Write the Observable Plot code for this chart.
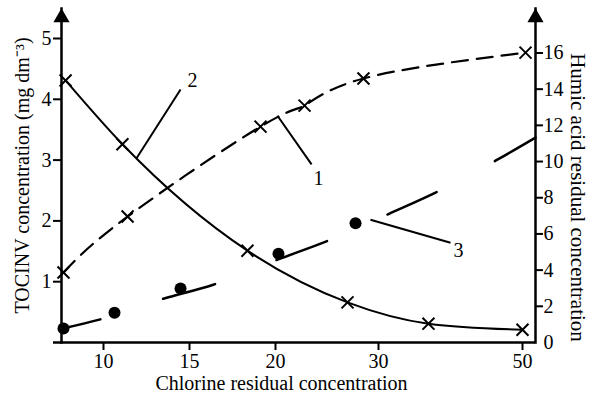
<!DOCTYPE html>
<html><head><meta charset="utf-8">
<script src="https://cdn.jsdelivr.net/npm/d3@7"></script>
<script src="https://cdn.jsdelivr.net/npm/@observablehq/plot@0.6"></script>
<style>html,body{margin:0;padding:0;background:#fff} #chart svg{display:block}</style>
</head><body><div id="chart"></div>
<script>
// ---- axis ticks ----
const xTicks = [10, 15, 20, 30, 50];
const leftTicks = [1, 2, 3, 4, 5];
const rightTicks = [2, 4, 6, 8, 10, 12, 14, 16];
const rightZero = [0];
// humic-acid units per TOCINV unit (ratio of the two y axes)
const rightPerLeft = 3.36;

// ---- curve 1: humic acid residual (right axis), dashed with crosses ----
const c1x = [7.68, 11.40, 19.13, 22.82, 28.54, 50.42];
const c1y = [3.87, 6.96, 11.93, 13.09, 14.59, 16.02];

// ---- curve 2: TOCINV (left axis), solid with crosses ----
const c2x = [7.80, 11.10, 18.37, 26.99, 36.94, 50.0];
const c2y = [4.31, 3.26, 1.51, 0.66, 0.31, 0.21];

// ---- curve 3: filled dots (left axis) and long-dash trend line ----
const c3x = [7.68, 10.64, 14.48, 20.29, 27.77];
const c3y = [0.23, 0.49, 0.89, 1.46, 1.96];
const c3lineX = [7.62, 9.94, 13.48, 16.38, 20.0, 25.34, 31.53, 38.19, 46.25, 51.8];
const c3lineY = [0.23, 0.39, 0.72, 0.95, 1.35, 1.69, 2.12, 2.48, 2.99, 3.37];

// ---- curve labels and leader lines ----
const labelText = ["1", "2", "3"];
const labelX = [24.17, 15.17, 41.1];
const labelY = [2.70, 4.31, 1.51];
const leaderX1 = [20.19, 11.92, 29.22];
const leaderY1 = [3.73, 3.03, 2.02];
const leaderX2 = [23.5, 14.48, 40.0];
const leaderY2 = [2.93, 4.16, 1.64];

const xTitle = "Chlorine residual concentration";
const yLeftTitle = "TOCINV concentration (mg dm\u207B\u00B3)";
const yRightTitle = "Humic acid residual concentration";

// ---- tables ----
const curve1 = c1x.map((x, i) => ({x, y: c1y[i] / rightPerLeft}));
const curve2 = c2x.map((x, i) => ({x, y: c2y[i]}));
const dots3 = c3x.map((x, i) => ({x, y: c3y[i]}));
const line3 = c3lineX.map((x, i) => ({x, y: c3lineY[i]}));
const labels = labelText.map((t, i) => ({t, x: labelX[i], y: labelY[i]}));
const leaders = leaderX1.map((x1, i) => ({x1, y1: leaderY1[i], x2: leaderX2[i], y2: leaderY2[i]}));

const xDomain = [7.1, 10, 15, 20, 30, 50, 51.8];
const FONT = "'Liberation Serif', 'Times New Roman', serif";
const FS = 20;

const chart = Plot.plot({
  width: 590,
  height: 398,
  marginLeft: 61,
  marginRight: 55,
  marginTop: 8,
  marginBottom: 56,
  style: {fontFamily: FONT, fontSize: "20px", color: "black", background: "white"},
  x: {type: "linear", domain: xDomain, range: [53, 103, 189, 275, 378, 522, 535]},
  y: {domain: [0, 5.5], range: [342, 7.6]},
  marks: [
    // axis lines
    Plot.frame({anchor: "left", strokeWidth: 2.5, stroke: "black"}),
    Plot.frame({anchor: "right", strokeWidth: 2.5, stroke: "black"}),
    Plot.ruleY([0], {x1: xDomain[0], x2: xDomain[xDomain.length - 1], strokeWidth: 2.5, stroke: "black"}),
    Plot.dot([0], {frameAnchor: "top-left", symbol: "triangle", r: 6, fill: "black", stroke: null, dy: 9.2}),
    Plot.dot([0], {frameAnchor: "top-right", symbol: "triangle", r: 6, fill: "black", stroke: null, dy: 9.2}),
    // axes
    Plot.axisX(xTicks, {tickSize: 8, tickPadding: 3, strokeWidth: 2, label: null, fontFamily: FONT, fontSize: FS, tickFormat: d => String(d)}),
    Plot.axisY(leftTicks, {anchor: "left", tickSize: 8, tickPadding: 2, strokeWidth: 2, label: null, fontFamily: FONT, fontSize: FS, tickFormat: d => String(d)}),
    Plot.axisY(rightTicks.map(v => v / rightPerLeft), {anchor: "right", tickSize: 7, tickPadding: 1, strokeWidth: 2, label: null, fontFamily: FONT, fontSize: FS, tickFormat: d => String(Math.round(d * rightPerLeft))}),
    Plot.axisY(rightZero, {anchor: "right", tickSize: 0, tickPadding: 8, label: null, fontFamily: FONT, fontSize: FS, tickFormat: d => String(d)}),
    // titles
    Plot.text([xTitle], {frameAnchor: "bottom", textAnchor: "middle", lineAnchor: "middle", dx: -17, dy: 41, text: d => d, fontFamily: FONT, fontSize: FS}),
    Plot.text([yLeftTitle], {frameAnchor: "left", textAnchor: "middle", lineAnchor: "middle", rotate: -90, dx: -39, text: d => d, fontFamily: FONT, fontSize: FS}),
    Plot.text([yRightTitle], {frameAnchor: "right", textAnchor: "middle", lineAnchor: "middle", rotate: 90, dx: 42, dy: 22, text: d => d, fontFamily: FONT, fontSize: 21}),
    // curve 1
    Plot.line(curve1, {x: "x", y: "y", curve: "natural", stroke: "black", strokeWidth: 2.2, strokeDasharray: "16,9"}),
    Plot.dot(curve1, {x: "x", y: "y", symbol: "times", r: 5.5, stroke: "black", strokeWidth: 2}),
    // curve 2
    Plot.line(curve2, {x: "x", y: "y", curve: "monotone-x", stroke: "black", strokeWidth: 2}),
    Plot.dot(curve2, {x: "x", y: "y", symbol: "times", r: 5.5, stroke: "black", strokeWidth: 2}),
    // curve 3
    Plot.line(line3, {x: "x", y: "y", curve: "monotone-x", stroke: "black", strokeWidth: 2.5, strokeDasharray: "54,66", strokeDashoffset: 15}),
    Plot.dot(dots3, {x: "x", y: "y", r: 6, fill: "black", stroke: null}),
    // leaders & labels
    Plot.link(leaders, {x1: "x1", y1: "y1", x2: "x2", y2: "y2", stroke: "black", strokeWidth: 2}),
    Plot.text(labels, {x: "x", y: "y", text: "t", fontFamily: FONT, fontSize: FS})
  ]
});
document.getElementById("chart").appendChild(chart);
</script>
</body></html>
